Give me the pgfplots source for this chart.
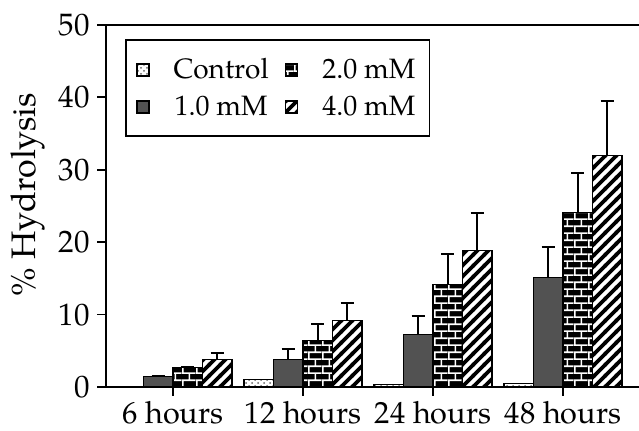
\documentclass[border=0pt]{standalone}
\usepackage{pgfplots}
\pgfplotsset{compat=1.18}
\usetikzlibrary{patterns}
\usepackage{fontspec}
\setmainfont{texgyrepagella}[Extension=.otf,UprightFont=*-regular,BoldFont=*-bold,ItalicFont=*-italic,BoldItalicFont=*-bolditalic]

\pgfdeclarepatternformonly{mystripes}{\pgfqpoint{-1pt}{-1pt}}{\pgfqpoint{6.5pt}{6.5pt}}{\pgfqpoint{5.5pt}{5.5pt}}{%
  \pgfsetlinewidth{1.9pt}%
  \pgfpathmoveto{\pgfqpoint{-1pt}{-1pt}}%
  \pgfpathlineto{\pgfqpoint{6.5pt}{6.5pt}}%
  \pgfusepath{stroke}%
}
\pgfdeclarepatterninherentlycolored{mybricks}{\pgfpointorigin}{\pgfqpoint{7pt}{7.2pt}}{\pgfqpoint{7pt}{7.2pt}}{%
  \pgfsetfillcolor{black}%
  \pgfpathrectangle{\pgfpointorigin}{\pgfqpoint{7pt}{7.2pt}}%
  \pgfusepath{fill}%
  \pgfsetstrokecolor{white}%
  \pgfsetlinewidth{0.9pt}%
  \pgfpathmoveto{\pgfqpoint{0pt}{0.45pt}}\pgfpathlineto{\pgfqpoint{7pt}{0.45pt}}%
  \pgfpathmoveto{\pgfqpoint{0pt}{4.05pt}}\pgfpathlineto{\pgfqpoint{7pt}{4.05pt}}%
  \pgfpathmoveto{\pgfqpoint{0.45pt}{0.9pt}}\pgfpathlineto{\pgfqpoint{0.45pt}{3.6pt}}%
  \pgfpathmoveto{\pgfqpoint{3.95pt}{4.5pt}}\pgfpathlineto{\pgfqpoint{3.95pt}{7.2pt}}%
  \pgfusepath{stroke}%
}

\pgfplotstableread{
x  ctrl  one   eone  two   etwo  four  efour
0  0.0   1.5   0.0   2.7   0.0   3.8   0.9
1  1.05  3.8   1.5   6.4   2.3   9.2   2.4
2  0.35  7.3   2.55  14.2  4.1   18.9  5.2
3  0.5   15.1  4.3   24.1  5.4   32.0  7.5
}\datatable

\begin{document}
\begin{tikzpicture}
\begin{axis}[
  scale only axis,
  width=266.5pt, height=181pt,
  xmin=-0.515, xmax=3.585,
  ymin=0, ymax=50,
  ytick={0,10,20,30,40,50},
  xtick={0,1,2,3},
  xticklabels={6 hours,12 hours,24 hours,48 hours},
  axis x line*=bottom,
  axis y line*=left,
  axis line style={line width=1pt},
  tick align=outside,
  major tick length=4.5pt,
  tick style={line width=0.9pt, black},
  /pgf/number format/assume math mode=true,
  yticklabel style={font=\fontsize{15.5}{17}\selectfont},
  xticklabel style={font=\fontsize{15.3}{17}\selectfont, inner sep=2.5pt},
  ylabel={\% Hydrolysis},
  ylabel style={font=\fontsize{17}{19}\selectfont, at={(ticklabel cs:0.53)}},
  ybar=0pt,
  bar width=0.227,
  legend columns=2,
  legend style={at={(axis description cs:0.036,0.96)}, anchor=north west,
    draw=black, line width=0.8pt, font=\fontsize{14}{16}\selectfont,
    inner xsep=5pt, inner ysep=7pt,
    /tikz/every odd column/.append style={column sep=10pt},
    /tikz/every even column/.append style={column sep=6pt},
    row sep=3pt},
  legend image code/.code={\draw[#1, line width=0.8pt] (0pt,-3pt) rectangle (6pt,3pt);},
  error bars/y dir=plus,
  error bars/y explicit,
  error bars/error mark options={rotate=90, mark size=3.25pt, line width=1pt},
  error bars/error bar style={line width=1pt},
]
\addplot[draw=black, line width=0.6pt, pattern=crosshatch dots, pattern color=black!60, bar shift=-0.3405] table[x=x, y=ctrl] {\datatable};
\addlegendentry{Control}
\addplot[draw=black, line width=0.6pt, pattern=mybricks, bar shift=0.1135] table[x=x, y=two, y error=etwo] {\datatable};
\addlegendentry{2.0 mM}
\addplot[draw=black, line width=0.6pt, fill=black!68, bar shift=-0.1135] table[x=x, y=one, y error=eone] {\datatable};
\addlegendentry{1.0 mM}
\addplot[draw=black, line width=0.6pt, pattern=mystripes, pattern color=black, bar shift=0.3405] table[x=x, y=four, y error=efour] {\datatable};
\addlegendentry{4.0 mM}
\draw[line width=1pt] (rel axis cs:0,1) -- (rel axis cs:1,1);
\coordinate (bl) at (rel axis cs:0,0);
\coordinate (tr) at (rel axis cs:1,1);
\end{axis}
\pgfresetboundingbox
\path[use as bounding box] ([xshift=-53pt,yshift=-22pt]bl) rectangle ([yshift=12.5pt]tr);
\end{tikzpicture}
\end{document}
